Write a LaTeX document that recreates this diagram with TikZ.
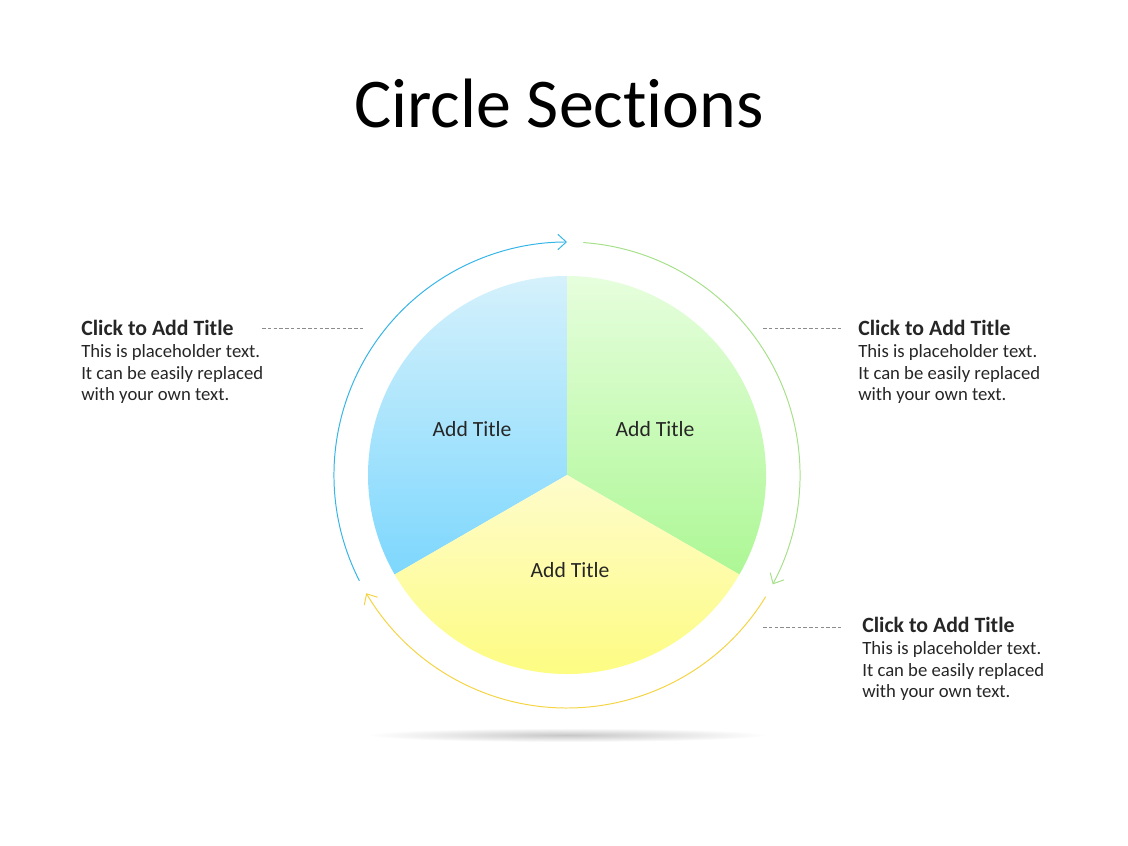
\documentclass[tikz,border=0pt]{standalone}
\usepackage{fontspec}
\setmainfont{Carlito}[Ligatures=NoCommon]
\usetikzlibrary{arrows.meta}
\definecolor{blueTop}{HTML}{D5F1FC}
\definecolor{blueBot}{HTML}{7DD7FD}
\definecolor{greenTop}{HTML}{E6FEDD}
\definecolor{greenBot}{HTML}{ADF795}
\definecolor{yellowTop}{HTML}{FEFCCB}
\definecolor{yellowBot}{HTML}{FDFC78}
\definecolor{blueLine}{HTML}{35B4E6}
\definecolor{greenLine}{HTML}{A6E08A}
\definecolor{yellowLine}{HTML}{F4D443}
\begin{document}
\begin{tikzpicture}[x=0.025cm, y=0.025cm,
  ring/.style = {line width=0.7pt, -{Straight Barb[length=6pt, width=11pt]}},
  lead/.style = {draw=black!45, dashed, dash pattern=on 2.5pt off 1.6pt, line width=0.4pt},
  label/.style = {font=\fontsize{15.4}{18}\selectfont, text=black!85},
  block/.style = {anchor=base west, align=left, inner sep=0pt, text=black!85,
                  font=\fontsize{13.3}{15.6}\selectfont}]
  \useasboundingbox (0,0) rectangle (1128,846);
  \coordinate (c) at (567,371);
  \node[anchor=base, font=\fontsize{49.7}{55}\selectfont] (title) at (559,718) {Circle Sections};

  \shade[inner color=black!22, outer color=white] (567,111) ellipse (200 and 7);

  \shade[top color=blueTop, bottom color=blueBot] (c) -- ++(90:199) arc (90:210:199) -- cycle;
  \shade[top color=greenTop, bottom color=greenBot] (c) -- ++(-30:199) arc (-30:90:199) -- cycle;
  \shade[top color=yellowTop, bottom color=yellowBot] (c) -- ++(210:199) arc (210:330:199) -- cycle;

  \node[label] (lblue) at (472,417) {Add Title};
  \node[label] (lgreen) at (655,417) {Add Title};
  \node[label] (lyellow) at (570,276) {Add Title};

  \draw[ring, blueLine] (c) ++(207:233) arc (207:90:233);
  \draw[ring, greenLine] (c) ++(86:233) arc (86:-28:233);
  \draw[ring, yellowLine] (c) ++(328.5:233) arc (328.5:210.5:233);

  \node[block] (left) at (81,445) {{\fontsize{15.5}{15.6}\selectfont\bfseries Click to Add Title}\\
    This is placeholder text.\\It can be easily replaced\\with your own text.};
  \node[block] (right) at (858,445) {{\fontsize{15.5}{15.6}\selectfont\bfseries Click to Add Title}\\
    This is placeholder text.\\It can be easily replaced\\with your own text.};
  \node[block] (lower) at (862,148) {{\fontsize{15.5}{15.6}\selectfont\bfseries Click to Add Title}\\
    This is placeholder text.\\It can be easily replaced\\with your own text.};

  \coordinate (a1) at (262,518);
  \coordinate (a2) at (363,518);
  \coordinate (b1) at (763,518);
  \coordinate (b2) at (843,518);
  \coordinate (d1) at (763,219);
  \coordinate (d2) at (843,219);
  \draw[lead] (a1) -- (a2);
  \draw[lead] (b1) -- (b2);
  \draw[lead] (d1) -- (d2);
\end{tikzpicture}
\end{document}
